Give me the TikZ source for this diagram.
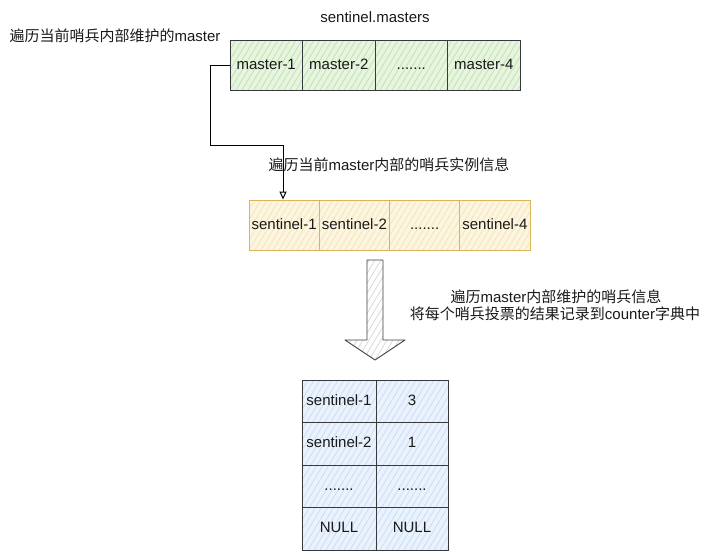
\documentclass[tikz,border=0pt]{standalone}
\usepackage{fontspec}
\setmainfont{Liberation Sans}
\newfontfamily\cjk{Noto Sans CJK SC}
\usetikzlibrary{arrows.meta}
\definecolor{ghatch}{HTML}{B9E0A5}
\definecolor{gline}{HTML}{36393D}
\definecolor{yhatch}{HTML}{F5E2A8}
\definecolor{yline}{HTML}{D6B656}
\definecolor{bhatch}{HTML}{C3D9F5}
\definecolor{txt}{HTML}{1A1A1A}
\newcommand{\hatchrect}[5]{%
  \fill[#5!35!white] (#1,#2) rectangle (#3,#4);
  \begin{scope}
    \clip (#1,#2) rectangle (#3,#4);
    \foreach \k in {-120,-114,...,320}
      \draw[#5,line width=0.6pt] ({#1+\k},#4) -- ++({0.6*(#4-#2)},{-(#4-#2)});
  \end{scope}}
\tikzset{
  cell/.style={draw=#1,line width=0.9pt,minimum height=50pt,inner sep=0pt,text height=11pt,text depth=3pt,font=\fontsize{15}{17}\selectfont,text=txt},
  tcell/.style={draw=gline,line width=0.9pt,minimum height=42.5pt,inner sep=0pt,text height=11pt,text depth=3pt,font=\fontsize{15}{17}\selectfont,text=txt},
  lbl/.style={font=\fontsize{15}{17}\selectfont,text=txt,inner sep=0pt,align=center},
  conn/.style={draw=black,line width=1pt,-{Triangle[open,length=8pt,width=7pt]}},
}
\begin{document}
\begin{tikzpicture}[x=1pt,y=-1pt]
\useasboundingbox[fill=white] (0,0) rectangle (711,551);
% master array
\hatchrect{230}{40}{520}{90}{ghatch}
\node[cell=gline,minimum width=72.5pt] (m1) at (266.25,65) {master-1};
\node[cell=gline,minimum width=72.5pt] (m2) at (338.75,65) {master-2};
\node[cell=gline,minimum width=72.5pt] (m3) at (411.25,65) {.......};
\node[cell=gline,minimum width=72.5pt] (m4) at (483.75,65) {master-4};
\node[lbl] (title) at (375,17) {sentinel.masters};
\node[lbl] (l1) at (115,36) {{\cjk 遍历当前哨兵内部维护的}master};
% sentinel array
\hatchrect{249}{200}{530}{250}{yhatch}
\node[cell=yline,minimum width=70.25pt] (s1) at (284.125,225) {sentinel-1};
\node[cell=yline,minimum width=70.25pt] (s2) at (354.375,225) {sentinel-2};
\node[cell=yline,minimum width=70.25pt] (s3) at (424.625,225) {.......};
\node[cell=yline,minimum width=70.25pt] (s4) at (494.875,225) {sentinel-4};
\node[lbl] (l2) at (389,165) {{\cjk 遍历当前}master{\cjk 内部的哨兵实例信息}};
% connector
\coordinate (c1) at (210,65);
\coordinate (c2) at (210,145);
\coordinate (c3) at (283,145);
\draw[conn] (m1.west) -- (c1) -- (c2) -- (c3) -- (c3 |- s1.north);
% big arrow
\begin{scope}
  \path[fill=white] (367,260) -- (383,260) -- (383,340) -- (405,340) -- (375,360) -- (345,340) -- (367,340) -- cycle;
  \clip (367,260) -- (383,260) -- (383,340) -- (405,340) -- (375,360) -- (345,340) -- (367,340) -- cycle;
  \foreach \k in {-120,-114,...,120}
    \draw[black!18,line width=0.6pt] ({345+\k},360) -- ++(60,-100);
\end{scope}
\draw[line width=0.9pt,draw=black!75,line join=round] (367,260) -- (383,260) -- (383,340) -- (405,340) -- (375,360) -- (345,340) -- (367,340) -- cycle;
\node[lbl] (l3) at (556,297) {{\cjk 遍历}master{\cjk 内部维护的哨兵信息}};
\node[lbl] (l4) at (555,314) {{\cjk 将每个哨兵投票的结果记录到}counter{\cjk 字典中}};
% table
\hatchrect{302}{380}{448}{550}{bhatch}
\node[tcell,minimum width=74pt] (t11) at (339,401.25) {sentinel-1};
\node[tcell,minimum width=72pt] (t12) at (412,401.25) {3};
\node[tcell,minimum width=74pt] (t21) at (339,443.75) {sentinel-2};
\node[tcell,minimum width=72pt] (t22) at (412,443.75) {1};
\node[tcell,minimum width=74pt] (t31) at (339,486.25) {.......};
\node[tcell,minimum width=72pt] (t32) at (412,486.25) {.......};
\node[tcell,minimum width=74pt] (t41) at (339,528.75) {NULL};
\node[tcell,minimum width=72pt] (t42) at (412,528.75) {NULL};
\end{tikzpicture}
\end{document}
